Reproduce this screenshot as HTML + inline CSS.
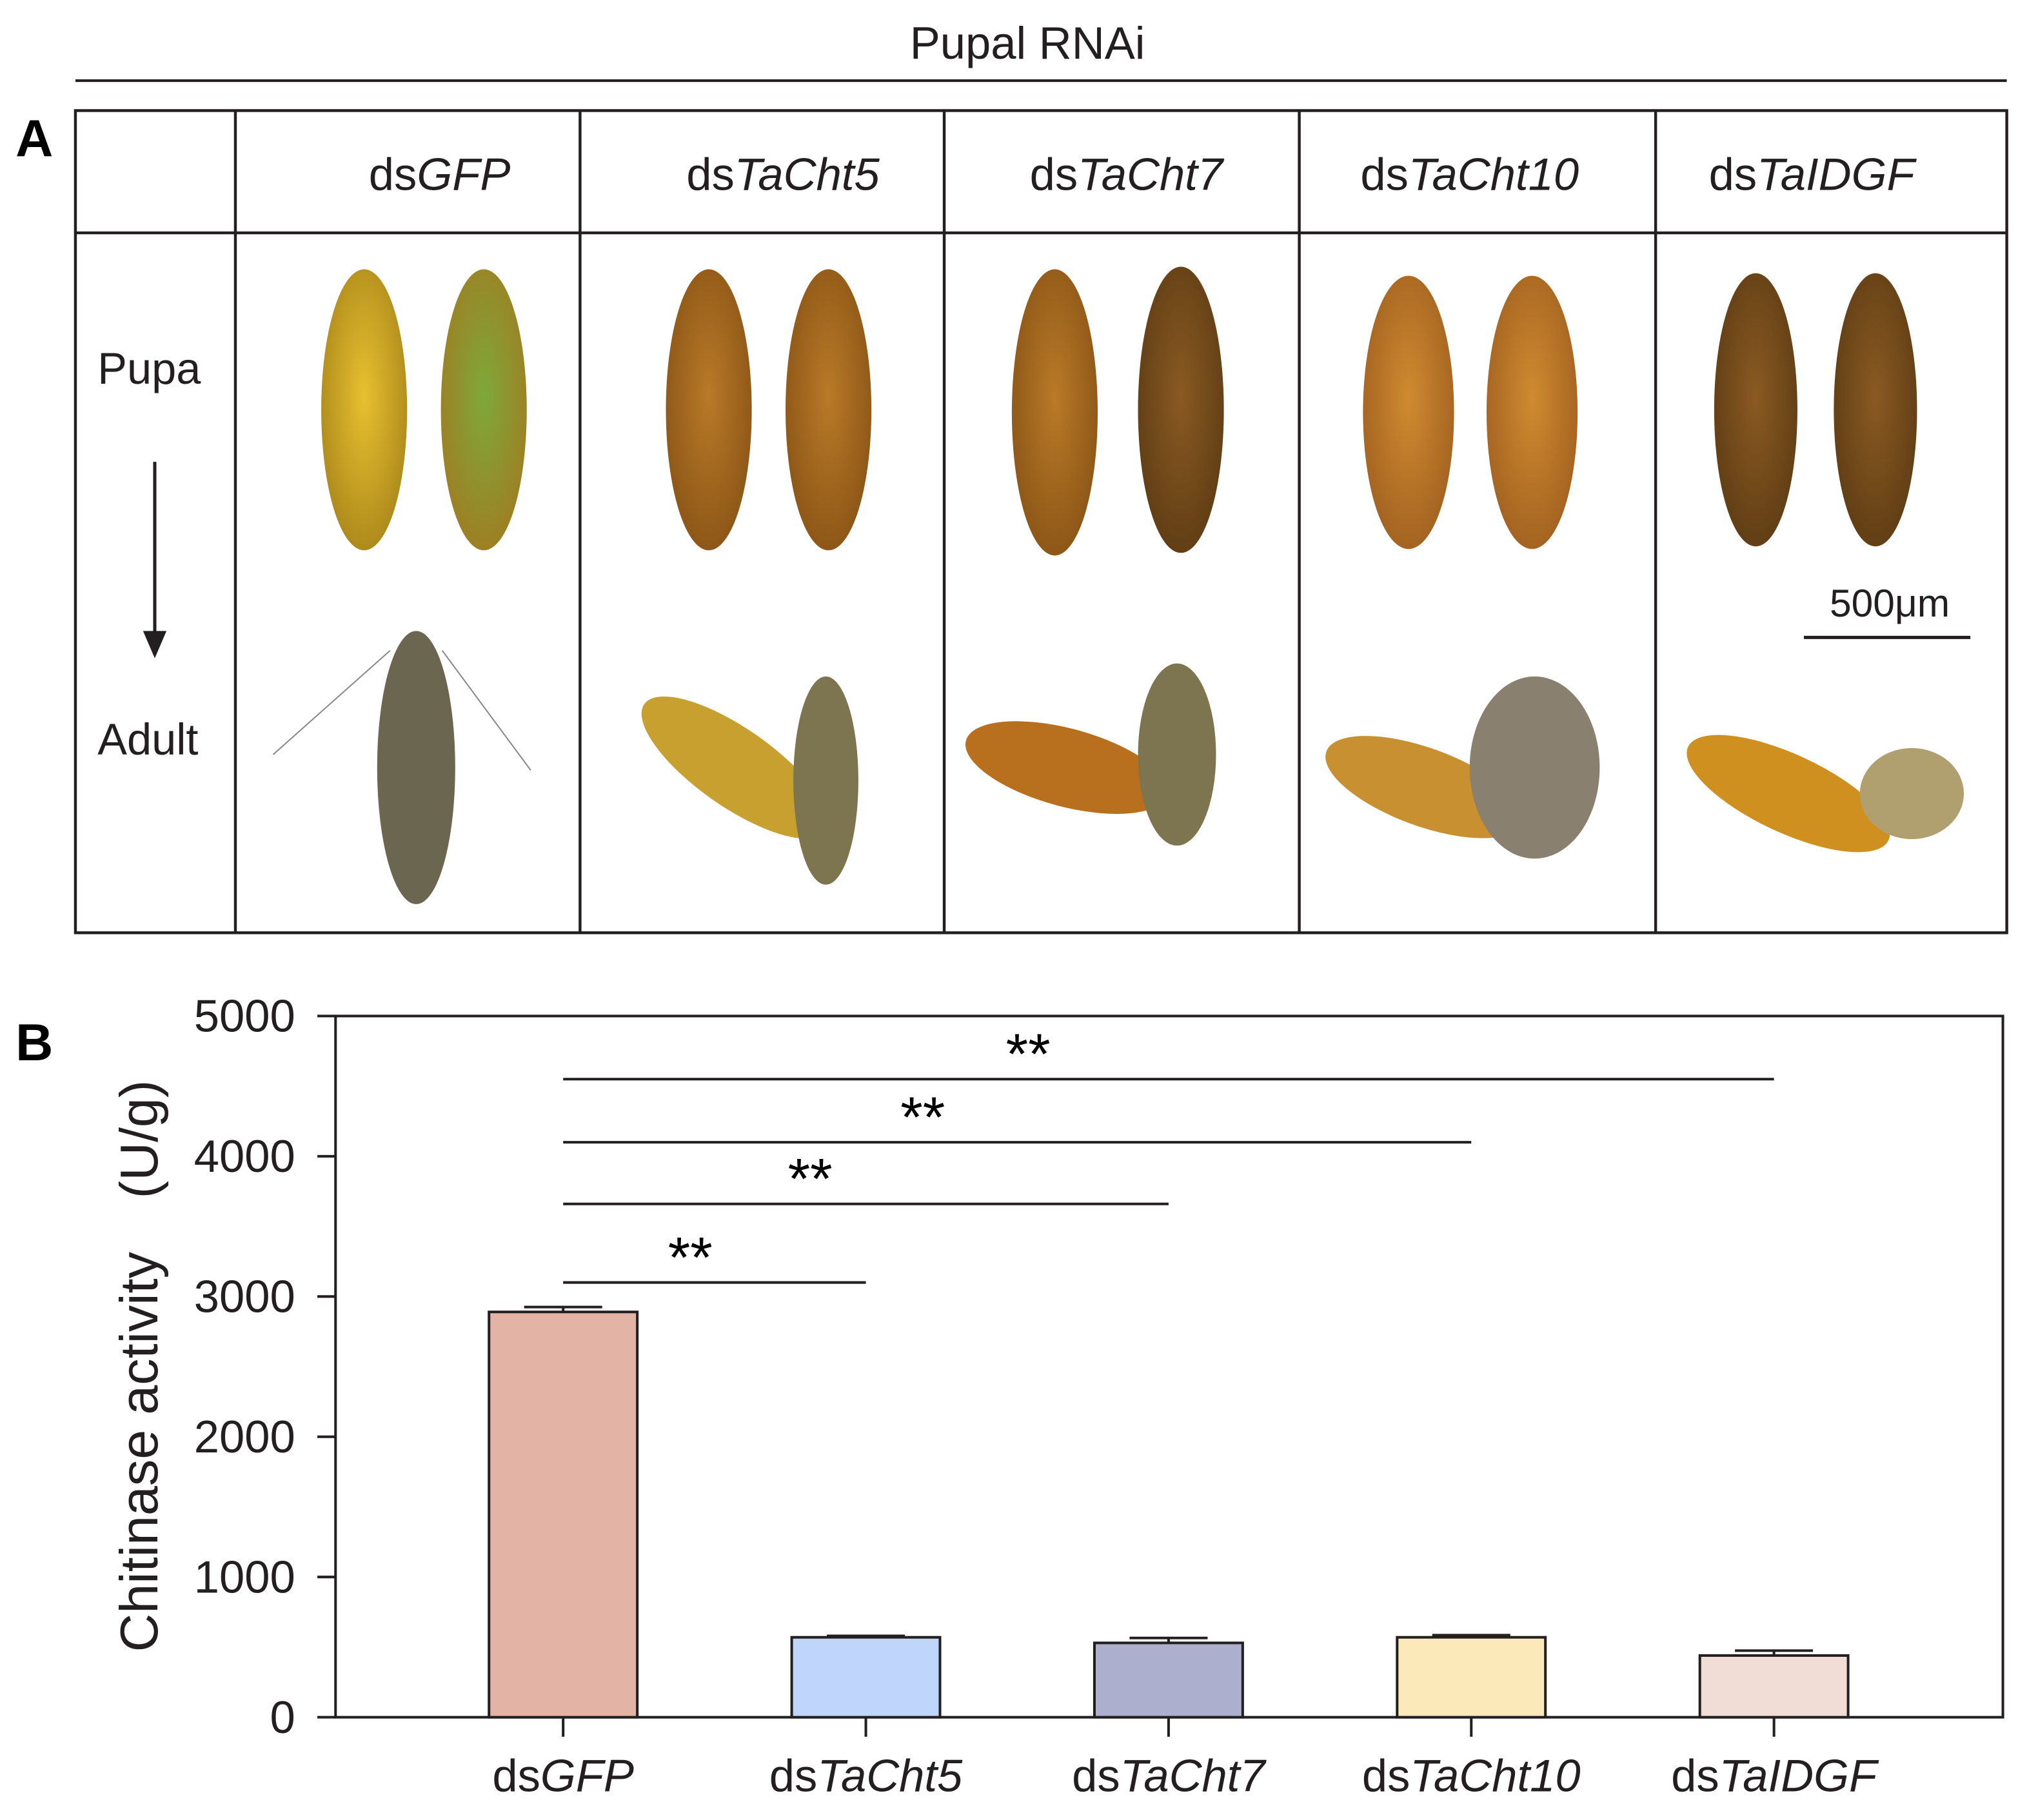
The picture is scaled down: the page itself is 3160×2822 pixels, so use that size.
<!DOCTYPE html>
<html><head><meta charset="utf-8"><style>
html,body{margin:0;padding:0;background:#fff}
svg{display:block;font-family:"Liberation Sans",Arial,sans-serif}
</style></head><body>
<svg id="fig" width="3160" height="2822" viewBox="0 0 1567 1399" preserveAspectRatio="none">
<defs>
<radialGradient id="gY" cx="50%" cy="45%" r="60%"><stop offset="0" stop-color="#e8c030"/><stop offset="1" stop-color="#a8861a"/></radialGradient>
<radialGradient id="gG" cx="50%" cy="45%" r="60%"><stop offset="0" stop-color="#7ea83a"/><stop offset="1" stop-color="#a07c22"/></radialGradient>
<radialGradient id="gO" cx="50%" cy="45%" r="60%"><stop offset="0" stop-color="#b97a28"/><stop offset="1" stop-color="#8a5416"/></radialGradient>
<radialGradient id="gD" cx="50%" cy="45%" r="60%"><stop offset="0" stop-color="#8a5a22"/><stop offset="1" stop-color="#5e3c14"/></radialGradient>
<radialGradient id="gL" cx="50%" cy="45%" r="60%"><stop offset="0" stop-color="#d08a30"/><stop offset="1" stop-color="#a06020"/></radialGradient>
</defs>
<text x="790" y="45" font-size="35" text-anchor="middle" fill="#231f20">Pupal RNAi</text>
<line x1="58" y1="62" x2="1543" y2="62" stroke="#231f20" stroke-width="2"/>
<text x="12" y="120" font-size="40" font-weight="bold" fill="#000">A</text>
<g stroke="#231f20" stroke-width="2.2" fill="none">
<rect x="58" y="85" width="1485" height="632"/>
<line x1="58" y1="179" x2="1543" y2="179"/>
<line x1="181" y1="85" x2="181" y2="717"/><line x1="446" y1="85" x2="446" y2="717"/><line x1="726" y1="85" x2="726" y2="717"/><line x1="999" y1="85" x2="999" y2="717"/><line x1="1273" y1="85" x2="1273" y2="717"/>
</g>
<g font-size="35" fill="#231f20" text-anchor="middle">
<text x="338" y="146">ds<tspan font-style="italic">GFP</tspan></text>
<text x="602" y="146">ds<tspan font-style="italic">TaCht5</tspan></text>
<text x="866" y="146">ds<tspan font-style="italic">TaCht7</tspan></text>
<text x="1130" y="146">ds<tspan font-style="italic">TaCht10</tspan></text>
<text x="1393" y="146">ds<tspan font-style="italic">TaIDGF</tspan></text>
</g>
<text x="75" y="295" font-size="34" fill="#231f20">Pupa</text>
<text x="75" y="580" font-size="34" fill="#231f20">Adult</text>
<line x1="119" y1="355" x2="119" y2="490" stroke="#231f20" stroke-width="2.5"/>
<polygon points="110,485 128,485 119,506" fill="#231f20"/>
<g>
<ellipse cx="280" cy="315" rx="33" ry="108" fill="url(#gY)"/><ellipse cx="372" cy="315" rx="33" ry="108" fill="url(#gG)"/>
<ellipse cx="545" cy="315" rx="33" ry="108" fill="url(#gO)"/><ellipse cx="637" cy="315" rx="33" ry="108" fill="url(#gO)"/>
<ellipse cx="811" cy="317" rx="33" ry="110" fill="url(#gO)"/><ellipse cx="908" cy="315" rx="33" ry="110" fill="url(#gD)"/>
<ellipse cx="1083" cy="317" rx="35" ry="105" fill="url(#gL)"/><ellipse cx="1178" cy="317" rx="35" ry="105" fill="url(#gL)"/>
<ellipse cx="1350" cy="315" rx="32" ry="105" fill="url(#gD)"/><ellipse cx="1442" cy="315" rx="32" ry="105" fill="url(#gD)"/>
</g>
<g>
<ellipse cx="320" cy="590" rx="30" ry="105" fill="#6b6650"/>
<line x1="210" y1="580" x2="300" y2="500" stroke="#888" stroke-width="1"/><line x1="340" y1="500" x2="408" y2="592" stroke="#888" stroke-width="1"/>
<ellipse cx="565" cy="590" rx="85" ry="30" fill="#c8a030" transform="rotate(35 565 590)"/><ellipse cx="635" cy="600" rx="25" ry="80" fill="#7d7450"/>
<ellipse cx="820" cy="590" rx="80" ry="30" fill="#b8701e" transform="rotate(15 820 590)"/><ellipse cx="905" cy="580" rx="30" ry="70" fill="#7d7450"/>
<ellipse cx="1095" cy="605" rx="80" ry="30" fill="#c89030" transform="rotate(20 1095 605)"/><ellipse cx="1180" cy="590" rx="50" ry="70" fill="#8a8070"/>
<ellipse cx="1375" cy="610" rx="85" ry="30" fill="#d09020" transform="rotate(25 1375 610)"/><ellipse cx="1470" cy="610" rx="40" ry="35" fill="#b0a070"/>
</g>
<text x="1453" y="474" font-size="30" text-anchor="middle" fill="#231f20">500μm</text>
<line x1="1387" y1="490" x2="1515" y2="490" stroke="#231f20" stroke-width="2.5"/>
<text x="12" y="815" font-size="40" font-weight="bold" fill="#000">B</text>
<g id="chart"></g>
</svg>
<script>
const categories = ["GFP", "TaCht5", "TaCht7", "TaCht10", "TaIDGF"];
const values = [2890, 570, 530, 570, 440];
const errors = [35, 10, 35, 15, 35];
const yTicks = [0, 1000, 2000, 3000, 4000, 5000];
const colors = ["#e3b3a5", "#bfd5fb", "#adafcf", "#fce9b9", "#f1dcd6"];
const sigPairs = [[0,1],[0,2],[0,3],[0,4]];
const sigLevels = [3100, 3660, 4100, 4550];
const sigLabels = ["**","**","**","**"];

const NS = "http://www.w3.org/2000/svg";
const g = document.getElementById("chart");
const X0 = 258, X1 = 1540, Y0 = 1320, Y1 = 781, YMAX = 5000;
const y = v => Y0 - v * (Y0 - Y1) / YMAX;
const xc = i => 433 + i * 232.75;
const BW = 114;
function mk(tag, attrs) { const e = document.createElementNS(NS, tag); for (const k in attrs) e.setAttribute(k, attrs[k]); g.appendChild(e); return e; }

const frame = mk("rect", {x: X0, y: Y1, width: X1 - X0, height: Y0 - Y1, fill: "none", stroke: "#231f20", "stroke-width": 2});



yTicks.forEach(t => {
  const tk = mk("line", {x1: 244, x2: X0, y1: y(t), y2: y(t), stroke: "#231f20", "stroke-width": 2});
  
  
  const lb = mk("text", {x: 227, y: y(t) + 12, "font-size": 35, "text-anchor": "end", fill: "#231f20"});
  lb.textContent = t;
  
  
});

const yt = mk("text", {x: 0, y: 0, "font-size": 41, "text-anchor": "middle", fill: "#231f20", transform: "translate(121,1050) rotate(-90)"});
yt.textContent = "Chitinase activity\u2003(U/g)";



categories.forEach((c, i) => {
  const cx = xc(i);
  const bar = mk("rect", {x: cx - BW/2, y: y(values[i]), width: BW, height: Y0 - y(values[i]), fill: colors[i], stroke: "#231f20", "stroke-width": 2});
  
  
  const ey = y(values[i] + errors[i]);
  const el = mk("path", {d: `M${cx},${y(values[i])}V${ey}M${cx-30},${ey}H${cx+30}`, stroke: "#231f20", "stroke-width": 2, fill: "none"});
  
  
  const tk = mk("line", {x1: cx, x2: cx, y1: Y0, y2: Y0 + 15, stroke: "#231f20", "stroke-width": 2});
  
  
  const lb = mk("text", {x: cx, y: 1377, "font-size": 35, "text-anchor": "middle", fill: "#231f20"});
  lb.innerHTML = 'ds<tspan font-style="italic">' + c + '</tspan>';
  
  
});

sigPairs.forEach((p, k) => {
  const ly = y(sigLevels[k]);
  const a = xc(p[0]), b = xc(p[1]);
  const ln = mk("line", {x1: a, x2: b, y1: ly, y2: ly, stroke: "#231f20", "stroke-width": 2});
  
  
  const st = mk("text", {x: a + (b - a) * (0.42 - 0.012 * k), y: ly - 4, "font-size": 44, "text-anchor": "middle", fill: "#000"});
  st.textContent = sigLabels[k];
  
  
});
</script>
</body></html>
